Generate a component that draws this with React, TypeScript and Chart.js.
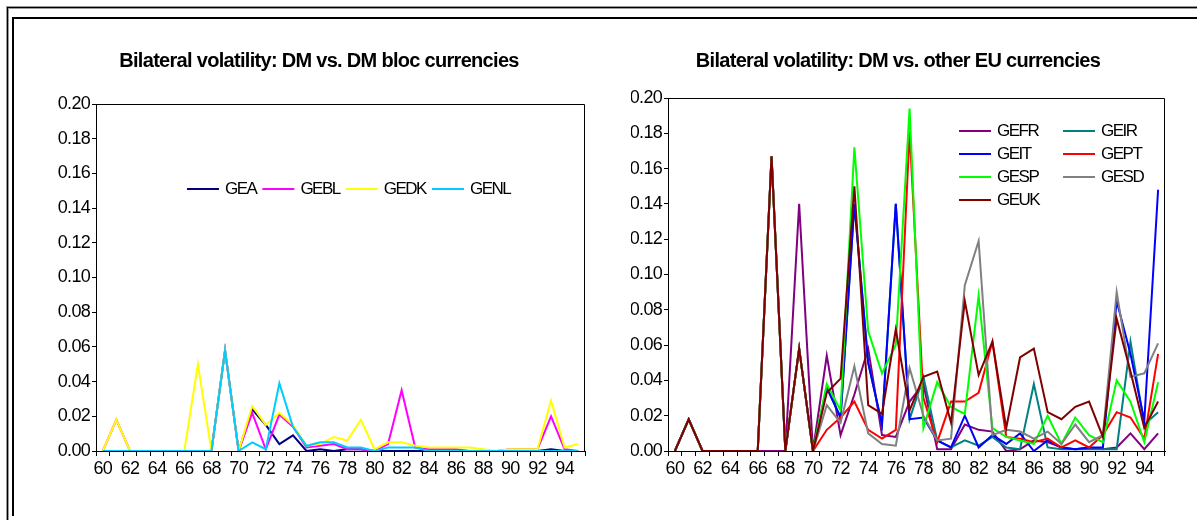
import React, { useEffect, useRef } from 'react';
import { Chart, registerables } from 'chart.js';

Chart.register(...registerables);

const years = ['60','61','62','63','64','65','66','67','68','69','70','71','72','73','74','75','76','77','78','79','80','81','82','83','84','85','86','87','88','89','90','91','92','93','94','95'];

// Left panel: DM vs. DM bloc currencies
const GEA  = [0,0,0,0,0,0,0,0,0,0.058,0,0.024,0.015,0.004,0.009,0,0.001,0,0.001,0.001,0,0,0,0,0,0,0,0,0,0,0,0,0,0.001,0,0];
const GEBL = [0,0.018,0,0,0,0,0,0,0,0.058,0,0.022,0.001,0.021,0.014,0.002,0.003,0.004,0.001,0.001,0,0.004,0.035,0.002,0.001,0.001,0.001,0,0,0,0.001,0.001,0.001,0.020,0.001,0];
const GEDK = [0,0.018,0,0,0,0,0,0.050,0,0.058,0,0.026,0.015,0.022,0.015,0.003,0.004,0.008,0.006,0.018,0.001,0.005,0.005,0.003,0.002,0.002,0.002,0.002,0.001,0,0.001,0.001,0.001,0.029,0.002,0.004];
const GENL = [0,0,0,0,0,0,0,0,0,0.058,0,0.005,0.001,0.039,0.014,0.003,0.005,0.005,0.002,0.002,0,0.002,0.002,0.002,0,0,0,0,0,0,0,0,0,0,0,0];

// Right panel: DM vs. other EU currencies
const GEFR = [0,0.018,0,0,0,0,0,0,0,0.140,0,0.054,0.009,0.032,0.058,0.009,0.008,0.028,0.038,0.001,0.001,0.015,0.012,0.011,0,0.001,0.006,0.005,0.002,0.001,0.002,0.001,0.002,0.010,0.001,0.010];
const GEIR = [0,0.018,0,0,0,0,0,0.167,0,0.058,0,0.036,0.019,0.140,0.050,0.015,0.140,0.018,0.042,0.006,0.002,0.006,0.003,0.008,0.002,0.001,0.038,0.002,0.001,0.001,0.001,0.001,0.001,0.062,0.015,0.022];
const GEIT = [0,0.018,0,0,0,0,0,0.167,0,0.058,0,0.036,0.019,0.140,0.050,0.015,0.140,0.018,0.019,0.006,0.002,0.020,0.002,0.009,0.004,0.010,0,0.006,0.002,0.001,0.002,0.002,0.085,0.055,0.017,0.148];
const GEPT = [0,0.018,0,0,0,0,0,0.167,0,0.058,0,0.012,0.019,0.028,0.012,0.007,0.012,0.181,0.030,0.005,0.028,0.028,0.033,0.062,0.008,0.007,0.005,0.007,0.002,0.006,0.002,0.009,0.022,0.019,0.007,0.055];
const GESP = [0,0.018,0,0,0,0,0,0.167,0,0.058,0,0.038,0.023,0.172,0.068,0.044,0.060,0.194,0.013,0.039,0.025,0.021,0.088,0.013,0.008,0.006,0.004,0.020,0.004,0.019,0.009,0.005,0.040,0.028,0.005,0.039];
const GESD = [0,0.018,0,0,0,0,0,0.167,0,0.058,0,0.026,0.016,0.048,0.010,0.004,0.003,0.047,0.020,0.006,0.007,0.094,0.119,0.009,0.012,0.011,0.007,0.011,0.004,0.015,0.005,0.009,0.090,0.042,0.044,0.061];
const GEUK = [0,0.018,0,0,0,0,0,0.167,0,0.058,0,0.033,0.041,0.150,0.026,0.021,0.069,0.023,0.042,0.045,0.016,0.085,0.043,0.062,0.013,0.053,0.058,0.022,0.018,0.025,0.028,0.008,0.075,0.045,0.013,0.028];

const leftNames = ['GEA', 'GEBL', 'GEDK', 'GENL'];
const leftSeries = [GEA, GEBL, GEDK, GENL];
const leftColors = ['#000080', '#FF00FF', '#FFFF00', '#00CCFF'];

const rightNames = ['GEFR', 'GEIR', 'GEIT', 'GEPT', 'GESP', 'GESD', 'GEUK'];
const rightSeries = [GEFR, GEIR, GEIT, GEPT, GESP, GESD, GEUK];
const rightColors = ['#800080', '#008080', '#0000FF', '#FF0000', '#00FF00', '#808080', '#800000'];

const yTicks = [0, 0.02, 0.04, 0.06, 0.08, 0.10, 0.12, 0.14, 0.16, 0.18, 0.20];

const FONT = "'Liberation Sans', Arial, sans-serif";
const SPACING = '-0.7px';
const LEGEND_SPACING = '-1.5px';

Chart.defaults.font.family = FONT;

function makeConfig(opts: {
  title: string;
  names: string[];
  series: number[][];
  colors: string[];
  yWidth: number;
  padLeft: number;
  padRight: number;
  titleBottom: number;
  legendMode: 'row' | 'grid';
  legendDx: number;
  legendDy: number;
}) {
  const n = opts.series.length;
  const datasets = opts.series.map((s, i) => ({
    label: opts.names[i],
    data: s,
    borderColor: opts.colors[i],
    backgroundColor: opts.colors[i],
    borderWidth: 2,
    pointRadius: 0,
    tension: 0,
    fill: false,
    order: n - 1 - i,
  }));

  const tightText = {
    id: 'tightText',
    beforeUpdate(chart: any) { chart.ctx.letterSpacing = SPACING; },
    beforeLayout(chart: any) { chart.ctx.letterSpacing = SPACING; },
    beforeDraw(chart: any) { chart.ctx.letterSpacing = SPACING; },
  };

  const frame = {
    id: 'frame',
    afterDatasetsDraw(chart: any) {
      const { ctx, chartArea } = chart;
      ctx.save();
      ctx.strokeStyle = '#000';
      ctx.lineWidth = 1;
      ctx.beginPath();
      ctx.moveTo(chartArea.left + 0.5, chartArea.top + 0.5);
      ctx.lineTo(chartArea.right - 0.5, chartArea.top + 0.5);
      ctx.lineTo(chartArea.right - 0.5, chartArea.bottom);
      ctx.stroke();
      ctx.restore();
    },
  };

  const legend = {
    id: 'innerLegend',
    afterDraw(chart: any) {
      const { ctx, chartArea } = chart;
      ctx.save();
      ctx.letterSpacing = LEGEND_SPACING;
      ctx.font = `17px ${FONT}`;
      ctx.textBaseline = 'middle';
      ctx.textAlign = 'left';
      const x0 = chartArea.left + opts.legendDx;
      const y0 = chartArea.top + opts.legendDy;
      let x = x0;
      opts.names.forEach((name, i) => {
        let sx: number, sy: number;
        if (opts.legendMode === 'row') {
          sx = x;
          sy = y0;
        } else {
          sx = x0 + (i % 2) * 104;
          sy = y0 + Math.floor(i / 2) * 23;
        }
        ctx.strokeStyle = opts.colors[i];
        ctx.lineWidth = 2;
        ctx.beginPath();
        ctx.moveTo(sx, Math.round(sy));
        ctx.lineTo(sx + 32, Math.round(sy));
        ctx.stroke();
        ctx.fillStyle = '#000';
        ctx.fillText(name, sx + 38, sy + 1);
        const w = ctx.measureText(name).width;
        x = sx + 38 + w + 6;
      });
      ctx.restore();
    },
  };

  return {
    type: 'line' as const,
    data: { labels: years, datasets },
    plugins: [tightText, frame, legend],
    options: {
      responsive: false,
      animation: false as const,
      events: [],
      layout: { padding: { top: 31, left: opts.padLeft, right: opts.padRight, bottom: 19 } },
      plugins: {
        legend: { display: false },
        tooltip: { enabled: false },
        title: {
          display: true,
          text: opts.title,
          color: '#000',
          font: { size: 20, weight: 'bold' as const, family: FONT, lineHeight: 1.0 },
          padding: { top: 0, bottom: opts.titleBottom },
        },
      },
      scales: {
        x: {
          type: 'category' as const,
          offset: true,
          afterFit: (scale: any) => { scale.height = 40; },
          grid: {
            offset: true,
            drawOnChartArea: false,
            drawTicks: true,
            tickLength: 5,
            color: '#000',
            lineWidth: 1,
          },
          border: { display: true, color: '#000', width: 1 },
          ticks: {
            autoSkip: false,
            maxRotation: 0,
            minRotation: 0,
            padding: 2,
            color: '#000',
            font: { size: 18, family: FONT },
            callback: (_v: any, idx: number) => (idx % 2 === 0 ? years[idx] : ''),
          },
        },
        y: {
          min: 0,
          max: 0.2,
          afterFit: (scale: any) => { scale.width = opts.yWidth; },
          afterBuildTicks: (scale: any) => { scale.ticks = yTicks.map((v) => ({ value: v })); },
          grid: {
            drawOnChartArea: false,
            drawTicks: true,
            tickLength: 4,
            color: '#000',
            lineWidth: 1,
          },
          border: { display: true, color: '#000', width: 1 },
          ticks: {
            padding: 2,
            color: '#000',
            font: { size: 18, family: FONT },
            callback: (v: any) => Number(v).toFixed(2),
          },
        },
      },
    },
  };
}

function ChartCanvas(props: { left: number; top: number; width: number; height: number; config: () => any }) {
  const ref = useRef<HTMLCanvasElement | null>(null);
  useEffect(() => {
    if (!ref.current) return;
    const chart = new Chart(ref.current, props.config());
    return () => chart.destroy();
  }, []);
  return (
    <canvas
      ref={ref}
      width={props.width}
      height={props.height}
      style={{ position: 'absolute', left: props.left, top: props.top, width: props.width, height: props.height, zIndex: 2 }}
    />
  );
}

export default function App() {
  return (
    <div style={{ position: 'absolute', left: 0, top: 0, width: 1197, height: 520, overflow: 'hidden', background: '#fff' }}>
      <div style={{ position: 'absolute', left: 6, top: 6, width: 1400, height: 800, borderLeft: '1px solid #999', borderTop: '1px solid #999' }} />
      <div style={{ position: 'absolute', left: 7, top: 7, width: 1400, height: 800, borderLeft: '1px solid #000', borderTop: '1px solid #000' }} />
      <div style={{ position: 'absolute', left: 8, top: 8, width: 1400, height: 800, borderLeft: '1px solid #999', borderTop: '1px solid #999' }} />
      <div style={{ position: 'absolute', left: 12, top: 17, width: 1400, height: 497, borderLeft: '2px solid #000', borderTop: '2px solid #000' }} />
      <ChartCanvas
        left={40}
        top={20}
        width={560}
        height={490}
        config={() =>
          makeConfig({
            title: 'Bilateral volatility: DM vs. DM bloc currencies',
            names: leftNames,
            series: leftSeries,
            colors: leftColors,
            yWidth: 43,
            padLeft: 13,
            padRight: 15,
            titleBottom: 33,
            legendMode: 'row',
            legendDx: 91,
            legendDy: 84.5,
          })
        }
      />
      <ChartCanvas
        left={615}
        top={20}
        width={570}
        height={490}
        config={() =>
          makeConfig({
            title: 'Bilateral volatility: DM vs. other EU currencies',
            names: rightNames,
            series: rightSeries,
            colors: rightColors,
            yWidth: 37,
            padLeft: 16,
            padRight: 20,
            titleBottom: 27,
            legendMode: 'grid',
            legendDx: 291,
            legendDy: 32.7,
          })
        }
      />
    </div>
  );
}
